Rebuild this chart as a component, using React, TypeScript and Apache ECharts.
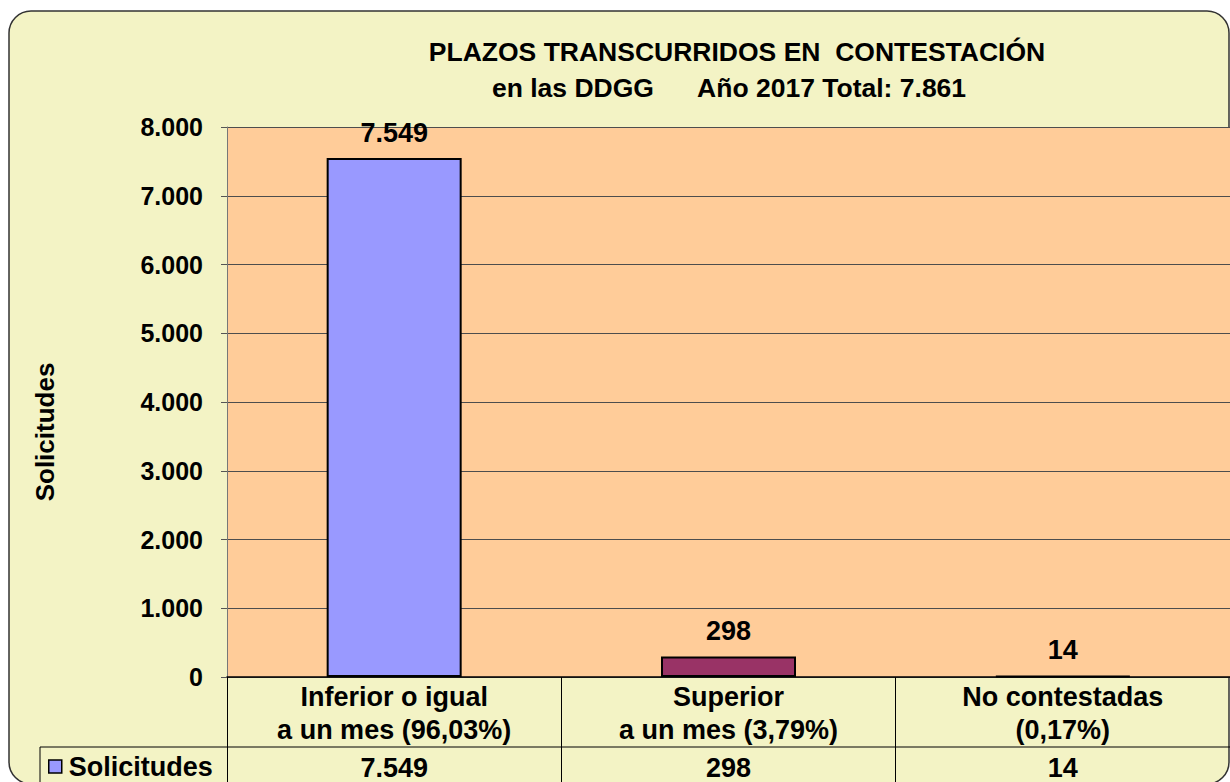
import React, { useEffect, useRef } from "react";
import * as echarts from "echarts";

const categories = ["Inferior o igual\na un mes (96,03%)", "Superior\na un mes (3,79%)", "No contestadas\n(0,17%)"];
const values = [7549, 298, 14];
const barColors = ["#9999FF", "#993366", "#FFFFCC"];
const seriesName = "Solicitudes";
const titleLine1 = "PLAZOS TRANSCURRIDOS EN  CONTESTACIÓN";
const titleLine2Prefix = "en las DDGG      Año 2017 Total: ";
const yTicks = { min: 0, max: 8000, interval: 1000 };

const FONT = "'Liberation Sans', Arial, sans-serif";
const fmt = (v: number) => String(v).replace(/\B(?=(\d{3})+(?!\d))/g, ".");

export default function App() {
  const ref = useRef<HTMLDivElement>(null);
  useEffect(() => {
    if (!ref.current) return;
    const chart = echarts.init(ref.current, null, { renderer: "svg" });
    const total = values.reduce((a, b) => a + b, 0);
    const option: any = {
      animation: false,
      backgroundColor: "#ffffff",
      title: [
        {
          text: titleLine1,
          left: 737,
          top: 38,
          textAlign: "center",
          padding: 0,
          textStyle: { fontFamily: FONT, fontWeight: "bold", fontSize: 26.5, color: "#000" },
        },
        {
          text: titleLine2Prefix + fmt(total),
          left: 729,
          top: 74,
          textAlign: "center",
          padding: 0,
          textStyle: { fontFamily: FONT, fontWeight: "bold", fontSize: 26.5, color: "#000" },
        },
      ],
      legend: {
        data: [seriesName],
        left: 48,
        top: 753,
        padding: 0,
        icon: "rect",
        itemWidth: 13,
        itemHeight: 13,
        itemStyle: { borderColor: "#000", borderWidth: 1.5 },
        textStyle: { fontFamily: FONT, fontWeight: "bold", fontSize: 27, color: "#000", padding: [0, 0, 0, 2] },
      },
      grid: {
        left: 227,
        top: 127,
        width: 1011,
        height: 550,
        show: true,
        backgroundColor: "#FFCC99",
        borderWidth: 0,
      },
      xAxis: [
        {
          type: "category",
          data: categories,
          position: "bottom",
          axisLine: { show: true, lineStyle: { color: "#000", width: 1.5 } },
          axisTick: { show: true, length: 105, lineStyle: { color: "#000", width: 1 }, interval: 0 },
          axisLabel: {
            interval: 0,
            margin: 3,
            fontFamily: FONT,
            fontWeight: "bold",
            fontSize: 27,
            lineHeight: 33,
            color: "#000",
          },
          splitLine: { show: false },
        },
        {
          type: "category",
          data: categories,
          position: "bottom",
          offset: 70,
          axisLine: { show: false },
          axisTick: { show: false },
          axisLabel: {
            interval: 0,
            margin: 7,
            fontFamily: FONT,
            fontWeight: "bold",
            fontSize: 27,
            lineHeight: 27,
            color: "#000",
            formatter: (_v: string, i: number) => fmt(values[i]),
          },
        },
      ],
      yAxis: {
        type: "value",
        min: yTicks.min,
        max: yTicks.max,
        interval: yTicks.interval,
        axisLine: { show: true, lineStyle: { color: "#777", width: 1 } },
        axisTick: { show: true, length: 6, lineStyle: { color: "#555" } },
        axisLabel: {
          margin: 24,
          fontFamily: FONT,
          fontWeight: "bold",
          fontSize: 25,
          color: "#000",
          formatter: (v: number) => fmt(v),
        },
        splitLine: { show: true, lineStyle: { color: "#4d4d4d", width: 1 } },
      },
      graphic: [
        {
          type: "rect",
          z: -10,
          shape: { x: 9, y: 11, width: 1220, height: 773, r: 22 },
          style: { fill: "#F3F3C5", stroke: "#333", lineWidth: 1.5 },
        },
        {
          type: "line",
          z: 10,
          shape: { x1: 40, y1: 747, x2: 1238, y2: 747 },
          style: { stroke: "#000", lineWidth: 1 },
        },
        {
          type: "line",
          z: 10,
          shape: { x1: 40, y1: 747, x2: 40, y2: 790 },
          style: { stroke: "#000", lineWidth: 1 },
        },
        {
          type: "text",
          z: 10,
          x: 45,
          y: 432,
          rotation: Math.PI / 2,
          style: {
            text: seriesName,
            fontFamily: FONT,
            fontWeight: "bold",
            fontSize: 26,
            fill: "#000",
            align: "center",
            verticalAlign: "middle",
          },
        },
      ],
      series: [
        {
          name: seriesName,
          type: "bar",
          barWidth: 135,
          data: values.map((v, i) => ({ value: v, itemStyle: { color: barColors[i] } })),
          itemStyle: { color: barColors[0], borderColor: "#000", borderWidth: 2 },
          label: {
            show: true,
            position: "top",
            distance: 12,
            fontFamily: FONT,
            fontWeight: "bold",
            fontSize: 27,
            color: "#000",
            formatter: (p: any) => fmt(p.value),
          },
        },
      ],
    };
    chart.setOption(option);
    return () => chart.dispose();
  }, []);
  return <div ref={ref} style={{ position: "fixed", left: 0, top: 0, width: 1230, height: 782 }} />;
}
